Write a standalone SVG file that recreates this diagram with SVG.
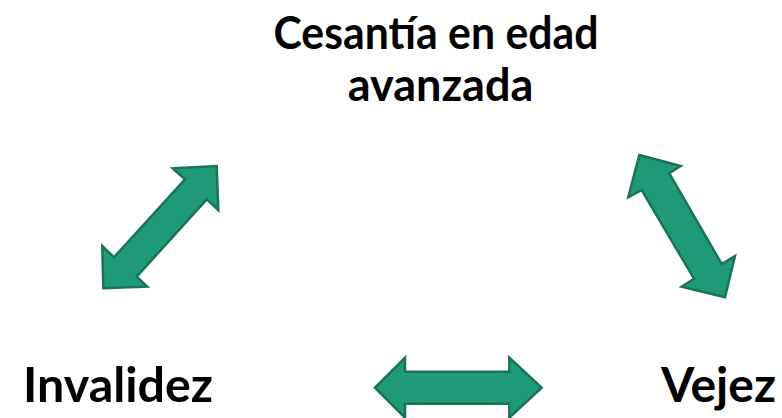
<svg xmlns="http://www.w3.org/2000/svg" width="782" height="418" viewBox="0 0 782 418">
<style>
.lbl{font-family:Lato,"Liberation Sans",sans-serif;font-weight:700;fill:#000;text-anchor:middle}
.arr{fill:#1F9A77;stroke:#18735A;stroke-width:2.5;stroke-linejoin:miter}
</style>
<rect width="782" height="418" fill="#fff"/>
<g id="node-cesantia">
<text class="lbl" x="436" y="49" font-size="45" textLength="325" lengthAdjust="spacingAndGlyphs">Cesantía en edad</text>
<text class="lbl" x="440.5" y="101" font-size="45">avanzada</text>
</g>
<g id="node-invalidez">
<text class="lbl" x="118" y="402" font-size="48" textLength="190" lengthAdjust="spacingAndGlyphs">Invalidez</text>
</g>
<g id="node-vejez">
<text class="lbl" x="718.5" y="402" font-size="48">Vejez</text>
</g>
<g id="connectors">
<polygon class="arr" points="216.7,166 218.3,210 206.7,199.3 136.7,276.7 147.3,286.7 103.3,288.3 102.3,246 114,257.3 185,179.3 172.7,168.3"/>
<polygon class="arr" points="639.3,155 680.7,166 669.3,173.3 721.7,264 735,256 725,297.3 681.7,286.7 694,278.7 641.7,190 628.3,197.3"/>
<polygon class="arr" points="375,387.7 405,357.7 405,371.7 509.3,371.7 509.3,357.7 541.7,387.7 509.3,417.7 509.3,403.7 405,403.7 405,417.7"/>
</g>
</svg>
